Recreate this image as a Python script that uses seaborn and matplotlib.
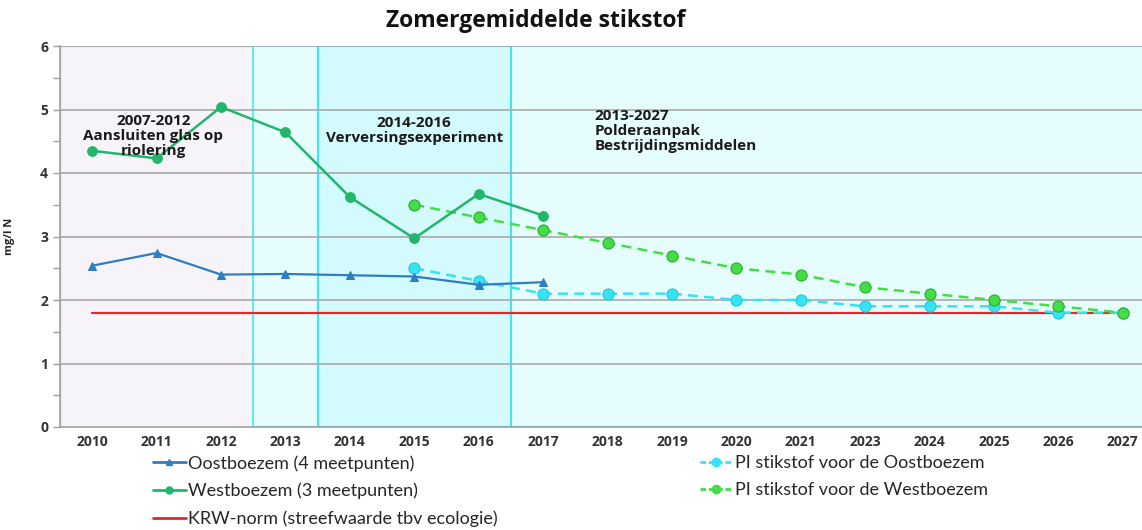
import matplotlib
matplotlib.use("Agg")
import matplotlib.pyplot as plt
import matplotlib.patches as mpatches
from matplotlib.lines import Line2D
import seaborn as sns
import pandas as pd

# ---- data ----
years = ["2010", "2011", "2012", "2013", "2014", "2015", "2016", "2017", "2018",
         "2019", "2020", "2021", "2023", "2024", "2025", "2026", "2027"]
oost_years = ["2010", "2011", "2012", "2013", "2014", "2015", "2016", "2017"]
oost_vals = [2.54, 2.74, 2.40, 2.41, 2.39, 2.37, 2.24, 2.28]
west_years = ["2010", "2011", "2012", "2013", "2014", "2015", "2016", "2017"]
west_vals = [4.35, 4.23, 5.04, 4.64, 3.62, 2.97, 3.67, 3.33]
pi_years = ["2015", "2016", "2017", "2018", "2019", "2020", "2021", "2023",
            "2024", "2025", "2026", "2027"]
pi_oost_vals = [2.5, 2.3, 2.1, 2.1, 2.1, 2.0, 2.0, 1.9, 1.9, 1.9, 1.8, 1.8]
pi_west_vals = [3.5, 3.3, 3.1, 2.9, 2.7, 2.5, 2.4, 2.2, 2.1, 2.0, 1.9, 1.8]
krw_vals = [1.8] * len(years)

labels = ["Oostboezem (4 meetpunten)", "Westboezem (3 meetpunten)",
          "KRW-norm (streefwaarde tbv ecologie)",
          "PI stikstof voor de Oostboezem", "PI stikstof voor de Westboezem"]
periods = [("2010", "2012"), ("2013", "2027"), ("2014", "2016")]
period_texts = ["2007-2012\nAansluiten glas op\nriolering",
                "2013-2027\nPolderaanpak\nBestrijdingsmiddelen",
                "2014-2016\nVerversingsexperiment"]

pos = {y: i for i, y in enumerate(years)}

sns.set_theme(style="white")
plt.rcParams["font.family"] = ["Open Sans", "DejaVu Sans"]

fig = plt.figure(figsize=(11.42, 5.30), dpi=100)
ax = fig.add_axes([60 / 1142, 1 - 427 / 530, 1095 / 1142, (427 - 46) / 530])

C_OOST = "#2F7DC2"
C_WEST = "#22B56C"
C_PIO = "#35E3F3"
C_PIW = "#45DD45"
C_KRW = "#E8262A"

# background period boxes
bg = [("#F6F4F9", "#C9C4D3", 1.0), ("#E6FDFE", "#5DECF2", 1.5), ("#D3FAFC", "#3FE6EF", 1.5)]
for (a, b), (fc, ec, lw) in zip(periods, bg):
    x0 = pos[a] - 0.5
    x1 = pos[b] + 0.5
    ax.add_patch(mpatches.Rectangle((x0, 0), x1 - x0, 6, facecolor=fc, edgecolor=ec,
                                    lw=lw, zorder=0))

for yv in range(1, 7):
    ax.axhline(yv, color="#A9A9A9", lw=1.2, zorder=1)

def df(yrs, vals):
    return pd.DataFrame({"x": [pos[y] for y in yrs], "y": vals})

sns.lineplot(data=df(years, krw_vals), x="x", y="y", ax=ax, color=C_KRW, lw=1.6, zorder=2)
sns.lineplot(data=df(pi_years, pi_oost_vals), x="x", y="y", ax=ax, color=C_PIO, lw=1.8,
             linestyle=(0, (4, 2.5)), marker="o", markersize=8, markeredgecolor="#2BC8D8",
             markeredgewidth=0.8, zorder=3)
sns.lineplot(data=df(pi_years, pi_west_vals), x="x", y="y", ax=ax, color=C_PIW, lw=1.8,
             linestyle=(0, (4, 2.5)), marker="o", markersize=8, markeredgecolor="#2EAA3A",
             markeredgewidth=0.8, zorder=3)
sns.lineplot(data=df(oost_years, oost_vals), x="x", y="y", ax=ax, color=C_OOST, lw=1.6,
             marker="^", markersize=6, markeredgecolor=C_OOST, zorder=4)
sns.lineplot(data=df(west_years, west_vals), x="x", y="y", ax=ax, color=C_WEST, lw=1.8,
             marker="o", markersize=7, markeredgecolor=C_WEST, zorder=4)

ax.set_xlim(-0.5, len(years) - 0.5)
ax.set_ylim(0, 6)
ax.set_xticks(range(len(years)))
ax.set_xticklabels(years, fontsize=10, fontweight="bold", color="#333333")
ax.set_xticks([i - 0.5 for i in range(len(years) + 1)], minor=True)
ax.tick_params(axis="x", which="major", length=0, pad=6)
ax.tick_params(axis="x", which="minor", length=5, color="#A0A0A0", width=1, direction="out")
ax.set_yticks(range(0, 7))
ax.set_yticklabels([str(v) for v in range(0, 7)], fontsize=10, fontweight="bold", color="#333333")
ax.set_yticks([v + 0.5 for v in range(0, 6)], minor=True)
ax.tick_params(axis="y", which="both", length=5, color="#A0A0A0", width=1, direction="out", left=True)
ax.set_xlabel("")
ax.set_ylabel("mg/l N", fontsize=8, fontweight="bold", labelpad=18)
for s in ["top", "right"]:
    ax.spines[s].set_visible(False)
ax.spines["left"].set_color("#A0A0A0")
ax.spines["bottom"].set_color("#A0A0A0")
ax.spines["left"].set_linewidth(1.2)
ax.spines["bottom"].set_linewidth(1.2)
if ax.get_legend():
    ax.get_legend().remove()

# annotations
akw = dict(va="top", fontsize=11, fontweight="bold", color="#1A1A1A", linespacing=1.08, zorder=5)
ax.text(0.95, 4.93, period_texts[0], ha="center", **akw)
ax.text(5.0, 4.90, period_texts[2], ha="center", **akw)
ax.text(7.8, 5.01, period_texts[1], ha="left", **akw)

fig.text(536 / 1142, 1 - 21 / 530, "Zomergemiddelde stikstof", ha="center", va="center",
         fontsize=16.5, fontweight="bold", color="#111111")

# legend
h_oost = Line2D([], [], color=C_OOST, lw=2, marker="^", markersize=5)
h_west = Line2D([], [], color=C_WEST, lw=2, marker="o", markersize=5)
h_krw = Line2D([], [], color=C_KRW, lw=2)
h_pio = Line2D([], [], color=C_PIO, lw=2, linestyle=(0, (2, 1)), marker="o", markersize=6)
h_piw = Line2D([], [], color=C_PIW, lw=2, linestyle=(0, (2, 1)), marker="o", markersize=6)
lkw = dict(frameon=False, loc="upper left", handlelength=1.8, handletextpad=0.12,
           labelspacing=0.62, borderpad=0, borderaxespad=0,
           prop={"family": ["Lato", "DejaVu Sans"], "size": 13})
fig.legend([h_oost, h_west, h_krw], labels[:3], bbox_to_anchor=(153 / 1142, 1 - 455 / 530), **lkw)
fig.legend([h_pio, h_piw], labels[3:], bbox_to_anchor=(700 / 1142, 1 - 455 / 530), **lkw)

fig.savefig("out.png", dpi=100)
